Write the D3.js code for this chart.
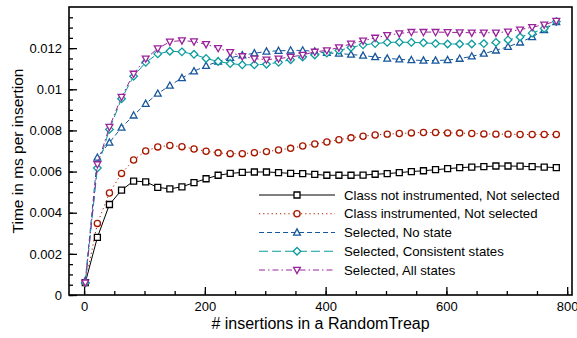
<!DOCTYPE html>
<html lang="en">
  <head>
    <meta charset="utf-8">
    <title>RandomTreap insertions</title>
    <script type="text/javascript" src="https://cdn.jsdelivr.net/npm/d3@7"></script>
    <style type="text/css">

html, body {
  margin: 0;
  padding: 0;
  background: #fff;
}

svg {
  display: block;
  font-family: "Liberation Sans", Arial, Helvetica, sans-serif;
}

.axis path, .axis line {
  stroke: #000;
  stroke-width: 1.3px;
}

.axis text {
  font-size: 13px;
  fill: #000;
}

    </style>
  </head>
  <body>
    <div id="chart"></div>
    <script type="text/javascript">

// number of insertions (x values)
var insertions = [2, 22, 42, 62, 82, 102, 122, 142, 162, 182,
  202, 222, 242, 262, 282, 302, 322, 342, 362, 382,
  402, 422, 442, 462, 482, 502, 522, 542, 562, 582,
  602, 622, 642, 662, 682, 702, 722, 742, 762, 782];

var notInstrumented = [0.0006, 0.0028, 0.0044, 0.0051, 0.00554, 0.0055, 0.00523, 0.00516, 0.00526, 0.00546,
  0.00565, 0.00582, 0.00591, 0.00596, 0.00598, 0.00598, 0.00595, 0.00591, 0.0059, 0.00586,
  0.00582, 0.00582, 0.00582, 0.00583, 0.00587, 0.0059, 0.00595, 0.006, 0.00604, 0.00609,
  0.00614, 0.00619, 0.00622, 0.00624, 0.00627, 0.00627, 0.00626, 0.00624, 0.00622, 0.00619];

var instrumented = [0.0006, 0.00348, 0.00496, 0.00591, 0.00656, 0.007, 0.0072, 0.00727, 0.00721, 0.0071,
  0.00699, 0.00691, 0.00687, 0.00687, 0.00692, 0.00697, 0.00705, 0.00713, 0.00724, 0.00734,
  0.00744, 0.00755, 0.00764, 0.00772, 0.00778, 0.00782, 0.00785, 0.00788, 0.0079, 0.0079,
  0.00788, 0.00787, 0.00785, 0.00783, 0.00782, 0.00782, 0.0078, 0.0078, 0.0078, 0.0078];

var noState = [0.0007, 0.00668, 0.00741, 0.00814, 0.00873, 0.0093, 0.00979, 0.01018, 0.01055, 0.01088,
  0.01114, 0.01135, 0.01153, 0.01166, 0.01175, 0.01184, 0.01187, 0.01189, 0.01189, 0.01184,
  0.01177, 0.01174, 0.01169, 0.01164, 0.01157, 0.0115, 0.01146, 0.01142, 0.0114, 0.0114,
  0.01142, 0.01149, 0.0116, 0.01174, 0.01189, 0.01207, 0.01228, 0.01254, 0.01288, 0.01327];

var consistentStates = [0.0006, 0.00617, 0.00805, 0.00954, 0.01063, 0.01131, 0.01172, 0.01185, 0.01182, 0.0117,
  0.0115, 0.01135, 0.01125, 0.01119, 0.01119, 0.01122, 0.01131, 0.01144, 0.01157, 0.01167,
  0.01176, 0.01189, 0.01203, 0.01216, 0.01222, 0.01228, 0.01229, 0.01228, 0.01226, 0.01222,
  0.0122, 0.0122, 0.0122, 0.01222, 0.01228, 0.0124, 0.01254, 0.01273, 0.01296, 0.01329];

var allStates = [0.0006, 0.00635, 0.00817, 0.00963, 0.01075, 0.01149, 0.01198, 0.01231, 0.01237, 0.01232,
  0.01219, 0.012, 0.0118, 0.0116, 0.01149, 0.01144, 0.01149, 0.01157, 0.01167, 0.01182,
  0.01189, 0.01203, 0.01221, 0.01236, 0.0125, 0.01263, 0.01271, 0.01278, 0.01278, 0.01278,
  0.01277, 0.01276, 0.01275, 0.01275, 0.01275, 0.0128, 0.0129, 0.01302, 0.01314, 0.01332];

var seriesNames = ["Class not instrumented, Not selected", "Class instrumented, Not selected",
  "Selected, No state", "Selected, Consistent states", "Selected, All states"];

var xTicks = [0, 200, 400, 600, 800];
var yTicks = [0, 0.002, 0.004, 0.006, 0.008, 0.01, 0.012];

// Stil pro Reihe: Farbe, Strichmuster, Marker
var styles = [
  {color: "#000000", dash: null, marker: "square"},
  {color: "#a81800", dash: "1.2,3", marker: "circle"},
  {color: "#17579c", dash: "5,3", marker: "triangle"},
  {color: "#0a9c9c", dash: "9,4", marker: "diamond"},
  {color: "#9a229a", dash: "6,3,1.5,3", marker: "triangleDown"}
];

var width = 577, height = 338;
var plotLeft = 69, plotRight = 572, plotTop = 7, plotBottom = 295;

var svg = d3.select("#chart").append("svg")
    .attr("width", width)
    .attr("height", height);

var x = d3.scaleLinear().domain([-25, 808]).range([plotLeft, plotRight]);
var y = d3.scaleLinear().domain([0, 0.014]).range([plotBottom, plotTop]);

// kleine Ticks
svg.append("g").attr("class", "axis")
    .attr("transform", "translate(0," + plotBottom + ")")
    .call(d3.axisBottom(x).tickValues(d3.range(0, 801, 50)).tickSize(-4).tickFormat(""))
    .select(".domain").remove();
svg.append("g").attr("class", "axis")
    .attr("transform", "translate(" + plotLeft + ",0)")
    .call(d3.axisLeft(y).tickValues(d3.range(0, 28).map(function(i) { return i * 0.0005; })).tickSize(-4).tickFormat(""))
    .select(".domain").remove();

// grosse Ticks mit Beschriftung
svg.append("g").attr("class", "axis")
    .attr("transform", "translate(0," + plotBottom + ")")
    .call(d3.axisBottom(x).tickValues(xTicks).tickSize(-8).tickPadding(7).tickFormat(d3.format("d")))
    .select(".domain").remove();
svg.append("g").attr("class", "axis")
    .attr("transform", "translate(" + plotLeft + ",0)")
    .call(d3.axisLeft(y).tickValues(yTicks).tickSize(-8).tickPadding(7).tickFormat(d3.format("~g")))
    .select(".domain").remove();

// Rahmen
svg.append("rect")
    .attr("x", plotLeft).attr("y", plotTop)
    .attr("width", plotRight - plotLeft).attr("height", plotBottom - plotTop)
    .attr("fill", "none").attr("stroke", "#000").attr("stroke-width", 1.6);

// Achsentitel
svg.append("text")
    .attr("x", (plotLeft + plotRight) / 2).attr("y", 329)
    .attr("text-anchor", "middle")
    .style("font-size", "16px")
    .text("# insertions in a RandomTreap");
svg.append("text")
    .attr("transform", "translate(23," + ((plotTop + plotBottom) / 2) + ") rotate(-90)")
    .attr("text-anchor", "middle")
    .style("font-size", "15.5px")
    .text("Time in ms per insertion");

var allSeries = [notInstrumented, instrumented, noState, consistentStates, allStates];

function markerPath(type) {
  if (type === "square") return "M-3,-3H3V3H-3Z";
  if (type === "circle") return d3.symbol().type(d3.symbolCircle).size(30)();
  if (type === "triangle") return "M0,-3.6L3.4,2.6H-3.4Z";
  if (type === "triangleDown") return "M0,3.6L3.4,-2.6H-3.4Z";
  return "M0,-3.8L3.8,0L0,3.8L-3.8,0Z";
}

var line = d3.line()
    .x(function(d) { return x(d[0]); })
    .y(function(d) { return y(d[1]); });

allSeries.forEach(function(values, i) {
  var st = styles[i];
  var pts = insertions.map(function(v, j) { return [v, values[j]]; });

  svg.append("path")
      .datum(pts)
      .attr("d", line)
      .attr("fill", "none")
      .attr("stroke", st.color)
      .attr("stroke-width", 1)
      .attr("stroke-dasharray", st.dash);

  svg.append("g").selectAll("path")
      .data(pts)
    .enter().append("path")
      .attr("transform", function(d) { return "translate(" + x(d[0]) + "," + y(d[1]) + ")"; })
      .attr("d", markerPath(st.marker))
      .attr("fill", "#fff")
      .attr("stroke", st.color)
      .attr("stroke-width", 1.3);
});

// Legende
var legend = svg.append("g").selectAll("g")
    .data(seriesNames)
  .enter().append("g")
    .attr("transform", function(d, i) { return "translate(0," + (195 + i * 18.75) + ")"; });

legend.append("line")
    .attr("x1", 259).attr("x2", 335)
    .attr("stroke", function(d, i) { return styles[i].color; })
    .attr("stroke-width", 1)
    .attr("stroke-dasharray", function(d, i) { return styles[i].dash; });

legend.append("path")
    .attr("transform", "translate(297,0)")
    .attr("d", function(d, i) { return markerPath(styles[i].marker); })
    .attr("fill", "#fff")
    .attr("stroke", function(d, i) { return styles[i].color; })
    .attr("stroke-width", 1.3);

legend.append("text")
    .attr("x", 344).attr("y", 4.6)
    .style("font-size", "13.2px")
    .text(function(d) { return d; });

    </script>
  </body>
</html>
